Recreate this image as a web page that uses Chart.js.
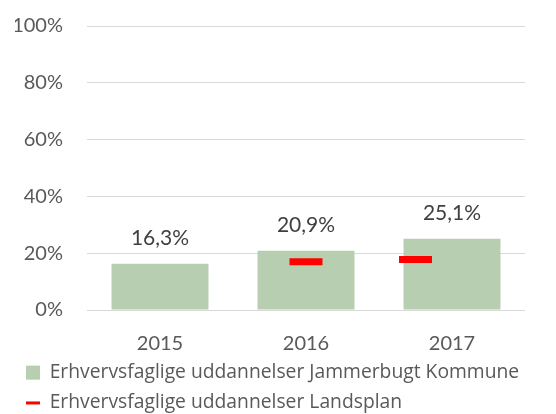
<!DOCTYPE html>
<html>
<head>
<meta charset="utf-8">
<script src="https://cdn.jsdelivr.net/npm/chart.js@4.4.0/dist/chart.umd.min.js"></script>
<style>
  html, body { margin: 0; padding: 0; background: #ffffff; }
  #wrap { width: 556px; height: 414px; position: relative; }
</style>
</head>
<body>
<div id="wrap"><canvas id="c"></canvas></div>
<script>
// ---- data ----
const years = ['2015', '2016', '2017'];
const kommuneLabel = 'Erhvervsfaglige uddannelser Jammerbugt Kommune';
const kommuneValues = [16.3, 20.9, 25.1];
const landsplanLabel = 'Erhvervsfaglige uddannelser Landsplan';
const landsplanYears = [2016, 2016.75];
const landsplanValues = [17.0, 17.8];
const yTicks = [0, 20, 40, 60, 80, 100];

const FONT = 'Lato, "Open Sans", sans-serif';
const LEGEND_FONT = '"Open Sans", Lato, sans-serif';
const AXIS_COLOR = '#595959';
const BAR_COLOR = '#b7ceb1';

const barLabelPlugin = {
  id: 'barLabels',
  afterDatasetsDraw(chart) {
    const ctx = chart.ctx;
    const meta = chart.getDatasetMeta(0);
    ctx.save();
    ctx.font = '21px ' + FONT;
    ctx.fillStyle = '#404040';
    ctx.textAlign = 'center';
    ctx.textBaseline = 'middle';
    meta.data.forEach((bar, i) => {
      const txt = kommuneValues[i].toFixed(1).replace('.', ',') + '%';
      ctx.fillText(txt, bar.x, bar.y - 25);
    });
    ctx.restore();
  }
};

const legendSizePlugin = {
  id: 'legendSize',
  afterInit(chart) {
    const lg = chart.legend;
    if (!lg) return;
    const origFit = lg.fit;
    lg.fit = function () { origFit.call(this); this.height = 62; };
  }
};

new Chart(document.getElementById('c'), {
  type: 'bar',
  data: {
    labels: years,
    datasets: [
      {
        label: kommuneLabel,
        data: kommuneValues,
        backgroundColor: BAR_COLOR,
        borderWidth: 0,
        grouped: false,
        barPercentage: 0.664,
        categoryPercentage: 1.0,
        xAxisID: 'x',
        order: 2
      },
      {
        type: 'line',
        label: landsplanLabel,
        data: landsplanYears.map((yr, i) => ({ x: yr, y: landsplanValues[i] })),
        xAxisID: 'x2',
        showLine: false,
        borderColor: '#ff0000',
        backgroundColor: '#ff0000',
        borderWidth: 3,
        pointStyle: 'line',
        pointRadius: 16.5,
        pointHoverRadius: 16.5,
        pointBorderWidth: 7,
        pointBorderColor: '#ff0000',
        clip: false,
        order: 1
      }
    ]
  },
  options: {
    responsive: true,
    maintainAspectRatio: false,
    animation: false,
    layout: { autoPadding: false, padding: { left: 15, right: 31, top: 26, bottom: 0 } },
    scales: {
      x: {
        type: 'category',
        offset: true,
        afterFit(scale) { scale.height = 42; },
        grid: { display: false, drawTicks: false },
        border: { display: false },
        ticks: { color: AXIS_COLOR, font: { family: FONT, size: 20 }, padding: 22 }
      },
      x2: {
        type: 'linear',
        display: false,
        offset: false,
        min: 2014.5,
        max: 2017.5
      },
      y: {
        min: 0,
        max: 100,
        afterBuildTicks(scale) { scale.ticks = yTicks.map(v => ({ value: v })); },
        afterFit(scale) {
          scale.width = 72;
          scale.paddingTop = 0;
          scale.paddingBottom = 0;
        },
        grid: { color: '#d9d9d9', lineWidth: 1, drawTicks: false },
        border: { display: false },
        ticks: {
          color: AXIS_COLOR,
          font: { family: FONT, size: 20 },
          padding: 24,
          callback: v => v + '%'
        }
      }
    },
    plugins: {
      tooltip: { enabled: false },
      legend: {
        position: 'bottom',
        align: 'start',
        labels: {
          color: AXIS_COLOR,
          font: { family: LEGEND_FONT, size: 19.3 },
          usePointStyle: true,
          pointStyleWidth: 14,
          boxHeight: 14,
          padding: 11,
          generateLabels(chart) {
            const items = Chart.defaults.plugins.legend.labels.generateLabels(chart);
            items.sort((a, b) => a.datasetIndex - b.datasetIndex);
            items[0].pointStyle = 'rect';
            items[0].lineWidth = 0;
            items[0].fillStyle = BAR_COLOR;
            items[0].strokeStyle = BAR_COLOR;
            items[1].pointStyle = 'line';
            items[1].lineWidth = 3;
            items[1].strokeStyle = '#ff0000';
            return items;
          }
        }
      }
    }
  },
  plugins: [barLabelPlugin, legendSizePlugin]
});
</script>
</body>
</html>
